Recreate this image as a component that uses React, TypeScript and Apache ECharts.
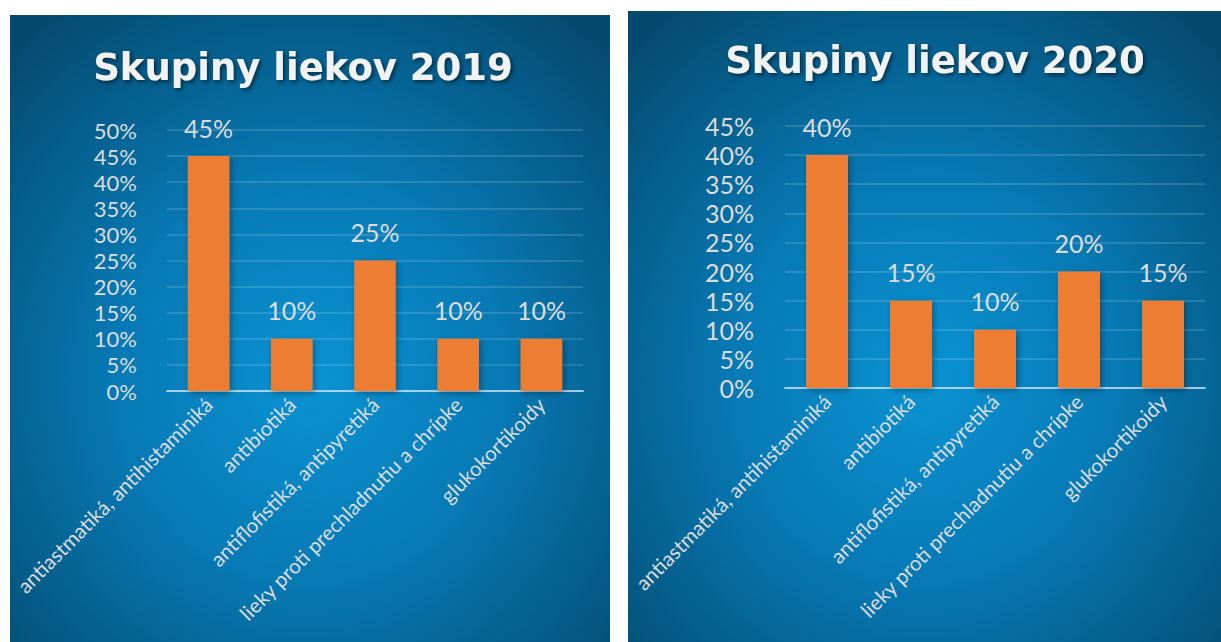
import React, { useEffect, useRef } from "react";
import * as echarts from "echarts";

const categories = [
  "antiastmatiká, antihistaminiká",
  "antibiotiká",
  "antiflofistiká, antipyretiká",
  "lieky proti prechladnutiu a chrípke",
  "glukokortikoidy",
];
const values2019 = [45, 10, 25, 10, 10];
const values2020 = [40, 15, 10, 20, 15];
const title2019 = "Skupiny liekov 2019";
const title2020 = "Skupiny liekov 2020";
const yMax2019 = 50;
const yMax2020 = 45;
const yStep = 5;

const LABEL_COLOR = "#dcdcdc";
const BAR_COLOR = "#ED7D31";
const FONT = "Lato";

function bg() {
  return new echarts.graphic.RadialGradient(0.5, 0.58, 0.72, [
    { offset: 0, color: "#0a93d3" },
    { offset: 0.45, color: "#0779b4" },
    { offset: 1, color: "#044a6e" },
  ]);
}

export default function App() {
  const ref = useRef<HTMLDivElement>(null);
  useEffect(() => {
    if (!ref.current) return;
    const chart = echarts.init(ref.current, undefined, { renderer: "svg" });
    const yAxisBase = (max: number, idx: number, margin: number, fs: number) => ({
      type: "value",
      gridIndex: idx,
      min: 0,
      max,
      interval: yStep,
      axisLabel: {
        formatter: "{value}%",
        color: LABEL_COLOR,
        fontFamily: FONT,
        fontSize: fs,
        lineHeight: fs,
        margin,
        showMinLabel: true,
        showMaxLabel: true,
        hideOverlap: false,
      },
      axisLine: { show: false },
      axisTick: { show: false },
      splitLine: { lineStyle: { color: "rgba(255,255,255,0.14)", width: 2 } },
    });
    const xAxisBase = (idx: number) => ({
      type: "category",
      gridIndex: idx,
      data: categories,
      axisLabel: {
        rotate: 45,
        color: LABEL_COLOR,
        fontFamily: FONT,
        fontSize: 20.5,
        margin: 10,
        interval: 0,
      },
      axisTick: { show: false },
      axisLine: { lineStyle: { color: "rgba(215,235,248,0.7)", width: 2 } },
    });
    const barSeries = (idx: number, data: number[]) => ({
      type: "bar",
      xAxisIndex: idx,
      yAxisIndex: idx,
      data,
      barWidth: "50%",
      itemStyle: {
        color: BAR_COLOR,
        shadowColor: "rgba(0,0,0,0.35)",
        shadowBlur: 6,
        shadowOffsetX: 2,
        shadowOffsetY: 2,
      },
      label: {
        show: true,
        position: "top",
        distance: 16,
        formatter: "{c}%",
        color: LABEL_COLOR,
        fontFamily: FONT,
        fontSize: 25,
      },
    });
    const titleStyle = {
      color: "#f2f2f2",
      fontFamily: "DejaVu Sans",
      fontWeight: "bold",
      fontSize: 37,
      textShadowColor: "rgba(0,0,0,0.55)",
      textShadowBlur: 4,
      textShadowOffsetX: 2,
      textShadowOffsetY: 2,
    };
    chart.setOption({
      animation: false,
      backgroundColor: "#ffffff",
      graphic: [
        {
          type: "rect",
          z: -10,
          shape: { x: 10, y: 15, width: 600, height: 627 },
          style: { fill: bg() },
          silent: true,
        },
        {
          type: "rect",
          z: -10,
          shape: { x: 628, y: 11, width: 593, height: 631 },
          style: { fill: bg() },
          silent: true,
        },
      ],
      title: [
        {
          text: title2019,
          left: 298,
          top: 44,
          textAlign: "center",
          textStyle: titleStyle,
        },
        {
          text: title2020,
          left: 930,
          top: 37,
          textAlign: "center",
          textStyle: titleStyle,
        },
      ],
      grid: [
        { left: 167, top: 130, width: 416, height: 261 },
        { left: 785, top: 126, width: 420, height: 262 },
      ],
      xAxis: [xAxisBase(0), xAxisBase(1)],
      yAxis: [yAxisBase(yMax2019, 0, 30, 22), yAxisBase(yMax2020, 1, 31, 25)],
      series: [barSeries(0, values2019), barSeries(1, values2020)],
    });
    return () => chart.dispose();
  }, []);
  return (
    <div
      ref={ref}
      style={{ position: "fixed", left: 0, top: 0, width: 1221, height: 642 }}
    />
  );
}
